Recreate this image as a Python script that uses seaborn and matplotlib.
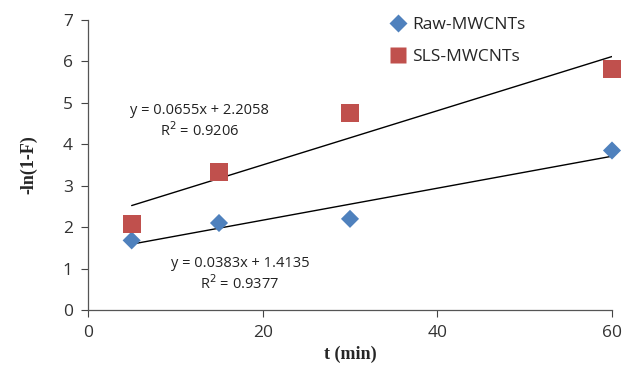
import matplotlib
matplotlib.use("Agg")
import matplotlib.pyplot as plt
import seaborn as sns
import pandas as pd

t_min = [5, 15, 30, 60]
raw_vals = [1.68, 2.10, 2.20, 3.85]
sls_vals = [2.07, 3.33, 4.75, 5.82]
series_names = ["Raw-MWCNTs", "SLS-MWCNTs"]
eq_sls = ["y = 0.0655x + 2.2058", "R$^2$ = 0.9206"]
eq_raw = ["y = 0.0383x + 1.4135", "R$^2$ = 0.9377"]

df = pd.DataFrame({
    "t": t_min * 2,
    "v": raw_vals + sls_vals,
    "series": [series_names[0]] * 4 + [series_names[1]] * 4,
})

sns.set_style("white")
plt.rcParams["font.family"] = ["Open Sans", "DejaVu Sans"]

fig = plt.figure(figsize=(6.36, 3.78), dpi=100)
ax = fig.add_axes([88/636, 68/378, 524/636, 290/378])

for vals in [raw_vals, sls_vals]:
    sns.regplot(x=t_min, y=vals, ax=ax, scatter=False, ci=None,
                line_kws=dict(color="black", lw=1.0))

sns.scatterplot(data=df, x="t", y="v", hue="series", style="series", size="series",
                markers={series_names[0]: "D", series_names[1]: "s"},
                palette={series_names[0]: "#4F81BD", series_names[1]: "#C0504D"},
                sizes={series_names[0]: 85, series_names[1]: 170},
                ax=ax, edgecolor="none", zorder=3, legend=True, clip_on=False)

ax.set_xlim(0, 60)
ax.set_ylim(0, 7)
ax.set_xticks([0, 20, 40, 60])
ax.set_yticks(range(8))
ax.tick_params(axis="both", direction="out", length=5, width=0.8, color="#444444",
               labelsize=12.5, labelcolor="#333333", left=True, bottom=True, pad=6)
for s in ["top", "right"]:
    ax.spines[s].set_visible(False)
for s in ["left", "bottom"]:
    ax.spines[s].set_color("#555555")
    ax.spines[s].set_linewidth(0.9)

ax.set_xlabel("t (min)", fontfamily="Liberation Serif", fontweight="bold", fontsize=13, labelpad=3)
ax.set_ylabel("-ln(1-F)", fontfamily="Liberation Serif", fontweight="bold", fontsize=13, labelpad=18)

ax.text(12.8, 4.55, eq_sls[0] + "\n" + eq_sls[1], ha="center", va="center",
        fontsize=10.5, color="#222222", linespacing=1.2, multialignment="center")
ax.text(17.4, 0.85, eq_raw[0] + "\n" + eq_raw[1], ha="center", va="center",
        fontsize=10.5, color="#222222", linespacing=1.2, multialignment="center")

leg = ax.legend(loc="upper left", bbox_to_anchor=(0.545, 1.065), frameon=False,
                fontsize=12.5, handletextpad=0.3, labelspacing=0.9, handlelength=1.0)
handles = leg.legend_handles
handles[0].set_markersize(9)
handles[1].set_markersize(12)

fig.savefig("out.png", dpi=100)
